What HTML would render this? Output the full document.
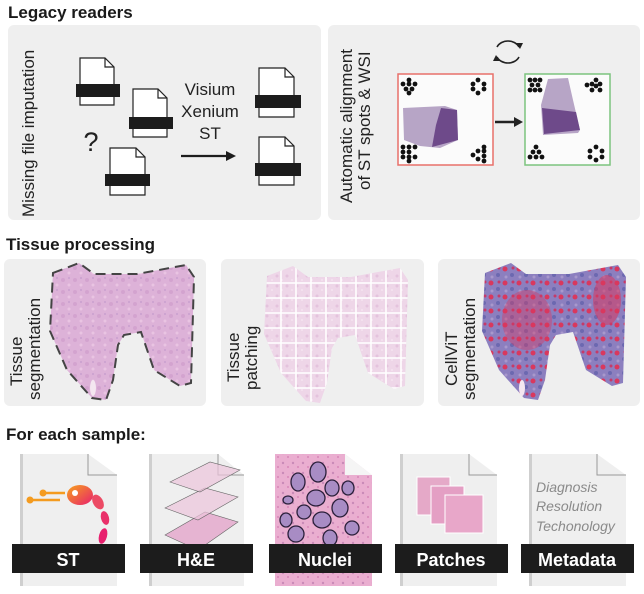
<!DOCTYPE html>
<html><head><meta charset="utf-8"><style>
html,body{margin:0;padding:0;background:#fff;}
svg{display:block;font-family:"Liberation Sans",Arial,sans-serif;}
</style></head><body>
<svg width="644" height="594" viewBox="0 0 644 594">
<defs>
<linearGradient id="stg" x1="0" x2="1" y1="0" y2="1"><stop offset="0" stop-color="#f7a21b"/><stop offset="1" stop-color="#e8206e"/></linearGradient>
<pattern id="pinkTex" width="12" height="12" patternUnits="userSpaceOnUse">
<rect width="12" height="12" fill="#ddb2d8"/><circle cx="3" cy="4" r="2" fill="#d3a3cf"/><circle cx="9" cy="9" r="1.5" fill="#e9c4e2"/><circle cx="9" cy="2" r="1" fill="#c9a0cf"/></pattern>
<pattern id="lightTex" width="10" height="10" patternUnits="userSpaceOnUse">
<rect width="10" height="10" fill="#eed6e8"/><circle cx="3" cy="3" r="1.5" fill="#e4c3dd"/><circle cx="8" cy="7" r="1" fill="#f5e3f0"/></pattern>
<pattern id="cellTex" width="14" height="14" patternUnits="userSpaceOnUse">
<rect width="14" height="14" fill="#8c7fbf"/><circle cx="3" cy="3" r="2.5" fill="#d9385e"/><circle cx="10" cy="9" r="2" fill="#6c68b0"/><circle cx="11" cy="2" r="1.5" fill="#c53a6a"/><circle cx="4" cy="11" r="1.5" fill="#a898cc"/></pattern>
<pattern id="nucTex" width="10" height="10" patternUnits="userSpaceOnUse">
<rect width="10" height="10" fill="#eaaed0"/><circle cx="3" cy="3" r="1.2" fill="#c98ab8"/><circle cx="8" cy="7" r="1" fill="#d787b8"/></pattern>
<clipPath id="tA"><path d="M53,273 L79,263 L94,274 L137,274 L186,265 L194,277 L191,383 L180,386 L154,370 L141,332 L124,335 L118,345 L113,380 L106,400 L92,398 L67,370 L50,331 Z"/></clipPath>
</defs>

<!-- Section 1 -->
<text x="8" y="18" font-size="17" font-weight="bold" fill="#1a1a1a">Legacy readers</text>
<rect x="8" y="25" width="313" height="195" rx="6" fill="#efefef"/>
<rect x="328" y="25" width="312" height="195" rx="6" fill="#efefef"/>
<text transform="translate(34,217) rotate(-90)" font-size="17" fill="#222">Missing file imputation</text>

<g stroke="#222" stroke-width="1.2" fill="#fff">
<path d="M80,58 L105,58 L114,67 L114,105 L80,105 Z"/><path d="M105,58 L105,67 L114,67" fill="none"/>
<rect x="76" y="84" width="44" height="13" fill="#1c1c1c" stroke="none"/></g>
<g stroke="#222" stroke-width="1.2" fill="#fff">
<path d="M133,89 L158,89 L167,98 L167,137 L133,137 Z"/><path d="M158,89 L158,98 L167,98" fill="none"/>
<rect x="129" y="117" width="44" height="12" fill="#1c1c1c" stroke="none"/></g>
<g stroke="#222" stroke-width="1.2" fill="#fff">
<path d="M110,148 L136,148 L145,157 L145,195 L110,195 Z"/><path d="M136,148 L136,157 L145,157" fill="none"/>
<rect x="105" y="174" width="45" height="12" fill="#1c1c1c" stroke="none"/></g>
<text x="91" y="151" font-size="27" text-anchor="middle" fill="#222">?</text>
<text x="210" y="95" font-size="17" text-anchor="middle" fill="#222">Visium</text>
<text x="210" y="117" font-size="17" text-anchor="middle" fill="#222">Xenium</text>
<text x="210" y="139" font-size="17" text-anchor="middle" fill="#222">ST</text>
<g><line x1="181" y1="156" x2="228" y2="156" stroke="#1c1c1c" stroke-width="2.2"/><path d="M236,156 L226,151 L226,161 Z" fill="#1c1c1c"/></g>
<g stroke="#222" stroke-width="1.2" fill="#fff">
<path d="M259,68 L285,68 L294,77 L294,117 L259,117 Z"/><path d="M285,68 L285,77 L294,77" fill="none"/>
<rect x="255" y="95" width="46" height="13" fill="#1c1c1c" stroke="none"/></g>
<g stroke="#222" stroke-width="1.2" fill="#fff">
<path d="M259,137 L285,137 L294,146 L294,185 L259,185 Z"/><path d="M285,137 L285,146 L294,146" fill="none"/>
<rect x="255" y="163" width="46" height="13" fill="#1c1c1c" stroke="none"/></g>

<g font-size="17" fill="#222">
<text transform="translate(352,203) rotate(-90)">Automatic alignment</text>
<text transform="translate(370,190) rotate(-90)">of ST spots &amp; WSI</text></g>
<g fill="none" stroke="#222" stroke-width="1.6">
<path d="M497,47 A12,10 0 0 1 519,47"/><path d="M519,57 A12,10 0 0 1 497,57"/>
<path d="M516,43 L520,49 L523,43" fill="#222" stroke="none"/><path d="M500,61 L496,55 L493,61" fill="#222" stroke="none"/></g>

<g>
<rect x="398" y="74" width="95" height="91" fill="#fbfbfb" stroke="#e8706a" stroke-width="1.5"/>
<path d="M403,108 L445,106 L457,110 L458,140 L440,148 L420,146 L404,140 Z" fill="#b7a5c6"/>
<path d="M441,108 L457,110 L458,140 L432,147 L436,125 Z" fill="#6e4a8a"/>
<g fill="#111">
<circle cx="409" cy="80" r="2.4"/><circle cx="403" cy="84" r="2.4"/><circle cx="409" cy="84" r="2.4"/><circle cx="415" cy="84" r="2.4"/><circle cx="406" cy="89" r="2.4"/><circle cx="412" cy="89" r="2.4"/><circle cx="409" cy="93" r="2.4"/>
<circle cx="478" cy="80" r="2.4"/><circle cx="473" cy="84" r="2.4"/><circle cx="484" cy="84" r="2.4"/><circle cx="473" cy="89" r="2.4"/><circle cx="484" cy="89" r="2.4"/><circle cx="478" cy="93" r="2.4"/>
<circle cx="403" cy="147" r="2.4"/><circle cx="409" cy="147" r="2.4"/><circle cx="415" cy="147" r="2.4"/><circle cx="403" cy="152" r="2.4"/><circle cx="409" cy="152" r="2.4"/><circle cx="403" cy="157" r="2.4"/><circle cx="409" cy="157" r="2.4"/><circle cx="415" cy="157" r="2.4"/><circle cx="409" cy="161" r="2.4"/>
<circle cx="484" cy="147" r="2.4"/><circle cx="478" cy="151" r="2.4"/><circle cx="484" cy="151" r="2.4"/><circle cx="473" cy="155" r="2.4"/><circle cx="484" cy="156" r="2.4"/><circle cx="478" cy="159" r="2.4"/><circle cx="484" cy="161" r="2.4"/></g></g>
<g><line x1="495" y1="122" x2="515" y2="122" stroke="#222" stroke-width="2.4"/><path d="M523,122 L514,117 L514,127 Z" fill="#222"/></g>
<g>
<rect x="525" y="74" width="85" height="91" fill="#fbfbfb" stroke="#7cc47e" stroke-width="1.5"/>
<path d="M548,79 L568,78 L573,100 L580,130 L578,133 L543,135 L541,105 Z" fill="#b7a5c6"/>
<path d="M542,108 L576,112 L580,130 L544,134 Z" fill="#6e4a8a"/>
<g fill="#111">
<circle cx="530" cy="80" r="2.4"/><circle cx="535" cy="80" r="2.4"/><circle cx="540" cy="80" r="2.4"/><circle cx="532" cy="85" r="2.4"/><circle cx="538" cy="85" r="2.4"/><circle cx="530" cy="90" r="2.4"/><circle cx="535" cy="90" r="2.4"/><circle cx="540" cy="90" r="2.4"/>
<circle cx="596" cy="80" r="2.4"/><circle cx="592" cy="84" r="2.4"/><circle cx="600" cy="84" r="2.4"/><circle cx="587" cy="85" r="2.4"/><circle cx="592" cy="90" r="2.4"/><circle cx="600" cy="90" r="2.4"/><circle cx="596" cy="86" r="2.4"/>
<circle cx="536" cy="147" r="2.4"/><circle cx="533" cy="152" r="2.4"/><circle cx="539" cy="152" r="2.4"/><circle cx="530" cy="157" r="2.4"/><circle cx="536" cy="157" r="2.4"/><circle cx="542" cy="157" r="2.4"/>
<circle cx="596" cy="147" r="2.4"/><circle cx="590" cy="151" r="2.4"/><circle cx="602" cy="151" r="2.4"/><circle cx="590" cy="157" r="2.4"/><circle cx="602" cy="157" r="2.4"/><circle cx="596" cy="160" r="2.4"/></g></g>

<!-- Section 2 -->
<text x="6" y="250" font-size="17" font-weight="bold" fill="#1a1a1a">Tissue processing</text>
<rect x="4" y="259" width="202" height="147" rx="6" fill="#efefef"/>
<rect x="221" y="259" width="203" height="147" rx="6" fill="#efefef"/>
<rect x="438" y="259" width="202" height="147" rx="6" fill="#efefef"/>

<g font-size="17" fill="#222">
<text transform="translate(22,386) rotate(-90)">Tissue</text>
<text transform="translate(40,400) rotate(-90)">segmentation</text></g>
<g>
<path d="M53,273 L79,263 L94,274 L137,274 L186,265 L194,277 L191,383 L180,386 L154,370 L141,332 L124,335 L118,345 L113,380 L106,400 L92,398 L67,370 L50,331 Z" fill="url(#pinkTex)"/>
<ellipse cx="93" cy="388" rx="3" ry="8" fill="#f4e6f0"/>
<path d="M53,273 L79,263 L94,274 L137,274 L186,265 L194,277 L191,383 L180,386 L154,370 L141,332 L124,335 L118,345 L113,380 L106,400 L92,398 L67,370 L50,331 Z" fill="none" stroke="#444" stroke-width="2" stroke-dasharray="10,6"/></g>

<g font-size="17" fill="#222">
<text transform="translate(239,382) rotate(-90)">Tissue</text>
<text transform="translate(257,390) rotate(-90)">patching</text></g>
<g transform="translate(214,3)">
<g clip-path="url(#tA)">
<rect x="40" y="255" width="160" height="150" fill="url(#lightTex)"/>
<g stroke="#fff" stroke-width="1.6">
<line x1="67" y1="260" x2="67" y2="400"/><line x1="82" y1="260" x2="82" y2="400"/><line x1="97" y1="260" x2="97" y2="400"/><line x1="112" y1="260" x2="112" y2="400"/><line x1="127" y1="260" x2="127" y2="400"/><line x1="142" y1="260" x2="142" y2="400"/><line x1="157" y1="260" x2="157" y2="400"/><line x1="172" y1="260" x2="172" y2="400"/><line x1="187" y1="260" x2="187" y2="400"/>
<line x1="48" y1="280" x2="196" y2="280"/><line x1="48" y1="295" x2="196" y2="295"/><line x1="48" y1="310" x2="196" y2="310"/><line x1="48" y1="325" x2="196" y2="325"/><line x1="48" y1="340" x2="196" y2="340"/><line x1="48" y1="355" x2="196" y2="355"/><line x1="48" y1="370" x2="196" y2="370"/><line x1="48" y1="385" x2="196" y2="385"/></g></g></g>

<g font-size="17" fill="#222">
<text transform="translate(457,386) rotate(-90)">CellViT</text>
<text transform="translate(475,400) rotate(-90)">segmentation</text></g>
<g transform="translate(432,0)">
<path d="M53,273 L79,263 L94,274 L137,274 L186,265 L194,277 L191,383 L180,386 L154,370 L141,332 L124,335 L118,345 L113,380 L106,400 L92,398 L67,370 L50,331 Z" fill="url(#cellTex)"/>
<ellipse cx="175" cy="300" rx="14" ry="25" fill="#d9385e" opacity="0.55"/>
<ellipse cx="95" cy="320" rx="25" ry="30" fill="#d9385e" opacity="0.4"/>
<ellipse cx="90" cy="388" rx="3" ry="8" fill="#f4e6f0"/></g>

<!-- Section 3 -->
<text x="6" y="440" font-size="17" font-weight="bold" fill="#1a1a1a">For each sample:</text>

<g>
<path d="M20,454 L88,454 L117,475 L117,586 L20,586 Z" fill="#efefef"/><rect x="20" y="454" width="3" height="132" fill="#cfcfcf"/>
<path d="M88,454 L88,475 L117,475" fill="none" stroke="#999" stroke-width="1"/>
<line x1="30" y1="500" x2="60" y2="500" stroke="#f49b1f" stroke-width="2.5"/><circle cx="30" cy="500" r="3.5" fill="#f49b1f"/>
<line x1="43" y1="493" x2="65" y2="493" stroke="#f49b1f" stroke-width="2.5"/><circle cx="43" cy="493" r="3.5" fill="#f49b1f"/>
<ellipse cx="80" cy="495" rx="13" ry="10" fill="url(#stg)"/><circle cx="75" cy="493" r="3" fill="#fff"/>
<ellipse cx="98" cy="502" rx="5" ry="8" fill="#ec4a64" transform="rotate(-30 98 502)"/>
<ellipse cx="105" cy="518" rx="4" ry="7" fill="#e9306a" transform="rotate(-15 105 518)"/>
<ellipse cx="103" cy="536" rx="4" ry="8" fill="#e8206e" transform="rotate(15 103 536)"/>
<rect x="12" y="544" width="113" height="29" fill="#1c1c1c"/>
<text x="68" y="566" font-size="18" font-weight="bold" fill="#fff" text-anchor="middle">ST</text></g>

<g>
<path d="M149,454 L218,454 L244,475 L244,586 L149,586 Z" fill="#efefef"/><rect x="149" y="454" width="3" height="132" fill="#cfcfcf"/>
<path d="M218,454 L218,475 L244,475" fill="none" stroke="#999" stroke-width="1"/>
<path d="M165,535 L205,512 L238,522 L198,550 Z" fill="#e6b4d2" stroke="#666" stroke-width="0.6"/>
<path d="M165,508 L205,488 L238,497 L198,520 Z" fill="#ecc4dc" fill-opacity="0.7" stroke="#666" stroke-width="0.6"/>
<path d="M170,482 L210,462 L240,470 L200,492 Z" fill="#ecc4dc" fill-opacity="0.7" stroke="#666" stroke-width="0.6"/>
<rect x="140" y="544" width="113" height="29" fill="#1c1c1c"/>
<text x="196" y="566" font-size="18" font-weight="bold" fill="#fff" text-anchor="middle">H&amp;E</text></g>

<g>
<path d="M275,454 L345,454 L372,475 L372,586 L275,586 Z" fill="url(#nucTex)"/>
<path d="M345,454 L372,475 L345,475 Z" fill="#f5f5f5"/><path d="M345,454 L372,475 L372,454 Z" fill="#fff"/>
<g fill="#a88cc4" stroke="#2a1f3a" stroke-width="1.3">
<ellipse cx="318" cy="472" rx="8" ry="10"/><ellipse cx="298" cy="482" rx="7" ry="9"/><ellipse cx="332" cy="488" rx="7" ry="8"/><ellipse cx="316" cy="498" rx="9" ry="8"/><ellipse cx="304" cy="512" rx="7" ry="7"/><ellipse cx="340" cy="508" rx="8" ry="9"/><ellipse cx="322" cy="520" rx="9" ry="8"/><ellipse cx="286" cy="520" rx="6" ry="7"/><ellipse cx="296" cy="534" rx="8" ry="8"/><ellipse cx="330" cy="538" rx="7" ry="8"/><ellipse cx="352" cy="528" rx="7" ry="7"/><ellipse cx="288" cy="500" rx="5" ry="4"/><ellipse cx="348" cy="488" rx="6" ry="7"/></g>
<rect x="269" y="544" width="113" height="29" fill="#1c1c1c"/>
<text x="325" y="566" font-size="18" font-weight="bold" fill="#fff" text-anchor="middle">Nuclei</text></g>

<g>
<path d="M400,454 L469,454 L497,475 L497,586 L400,586 Z" fill="#efefef"/><rect x="400" y="454" width="3" height="132" fill="#cfcfcf"/>
<path d="M469,454 L469,475 L497,475" fill="none" stroke="#999" stroke-width="1"/>
<rect x="417" y="477" width="33" height="38" fill="#e5a9c8" stroke="#fff"/>
<rect x="431" y="486" width="33" height="38" fill="#e49fc4" stroke="#fff"/>
<rect x="445" y="495" width="38" height="38" fill="#e8a7c9" stroke="#fff"/>
<rect x="395" y="544" width="113" height="29" fill="#1c1c1c"/>
<text x="451" y="566" font-size="18" font-weight="bold" fill="#fff" text-anchor="middle">Patches</text></g>

<g>
<path d="M529,454 L597,454 L626,475 L626,586 L529,586 Z" fill="#efefef"/><rect x="529" y="454" width="3" height="132" fill="#cfcfcf"/>
<path d="M597,454 L597,475 L626,475" fill="none" stroke="#999" stroke-width="1"/>
<g font-size="14" font-style="italic" fill="#8a8a8a">
<text x="536" y="492">Diagnosis</text><text x="536" y="511">Resolution</text><text x="536" y="531">Techonology</text></g>
<rect x="521" y="544" width="113" height="29" fill="#1c1c1c"/>
<text x="577" y="566" font-size="18" font-weight="bold" fill="#fff" text-anchor="middle">Metadata</text></g>
</svg>
</body></html>
